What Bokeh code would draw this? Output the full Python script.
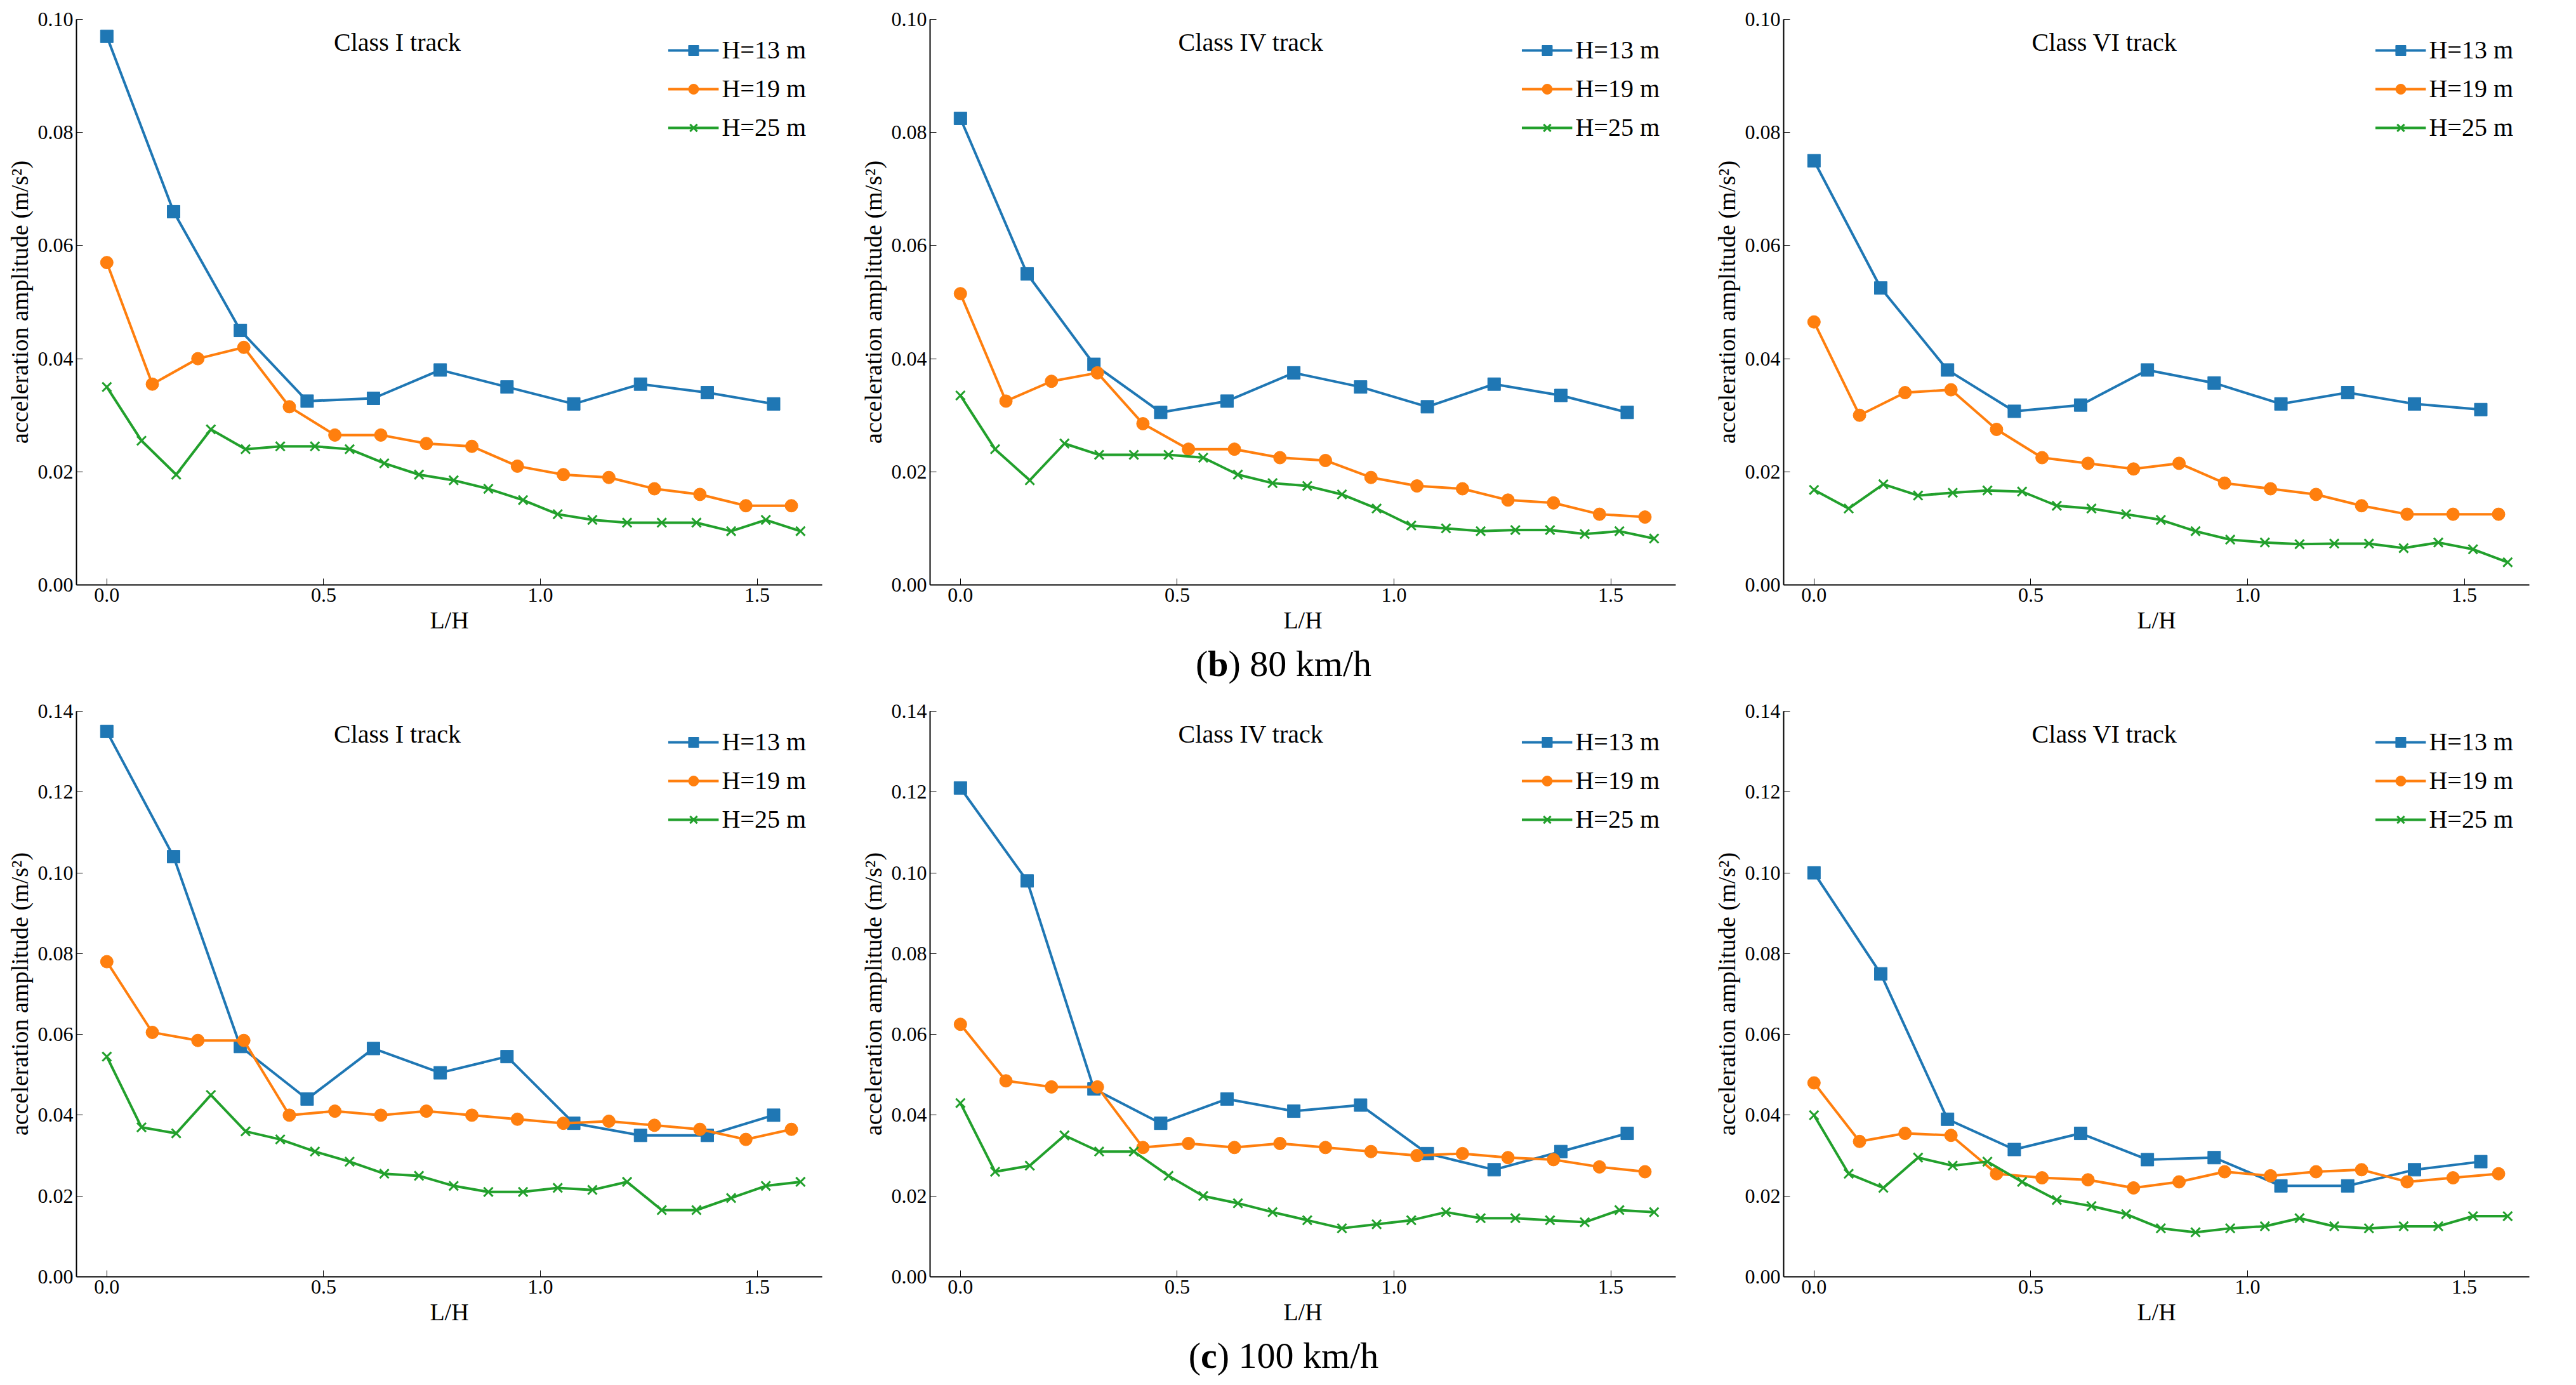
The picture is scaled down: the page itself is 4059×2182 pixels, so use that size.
from bokeh.plotting import figure
from bokeh.layouts import column, row
from bokeh.models import Div, Label, FixedTicker, NumeralTickFormatter, Legend, LegendItem
from bokeh.embed import file_html
from bokeh.resources import INLINE

x13 = [0, 0.154, 0.308, 0.462, 0.615, 0.769, 0.923, 1.077, 1.231, 1.385, 1.538]
x19 = [0, 0.105, 0.21, 0.316, 0.421, 0.526, 0.632, 0.737, 0.842, 0.947, 1.053, 1.158, 1.263, 1.368, 1.474, 1.579]
x25 = [0, 0.08, 0.16, 0.24, 0.32, 0.40, 0.48, 0.56, 0.64, 0.72, 0.80, 0.88, 0.96, 1.04, 1.12, 1.20, 1.28, 1.36, 1.44, 1.52, 1.60]

titles = ["Class I track", "Class IV track", "Class VI track"]
captions = [("(b)", " 80 km/h"), ("(c)", " 100 km/h")]

b80_h13 = [[.097,.066,.045,.0325,.033,.038,.035,.032,.0355,.034,.032],
           [.0825,.055,.039,.0305,.0325,.0375,.035,.0315,.0355,.0335,.0305],
           [.075,.0525,.038,.0307,.0318,.038,.0357,.032,.034,.032,.031]]
b80_h19 = [[.057,.0355,.040,.042,.0315,.0265,.0265,.025,.0245,.021,.0195,.019,.017,.016,.014,.014],
           [.0515,.0325,.036,.0375,.0285,.024,.024,.0225,.022,.019,.0175,.017,.015,.0145,.0125,.012],
           [.0465,.030,.034,.0345,.0275,.0225,.0215,.0205,.0215,.018,.017,.016,.014,.0125,.0125,.0125]]
b80_h25 = [[.035,.0255,.0195,.0275,.024,.0245,.0245,.024,.0215,.0195,.0185,.017,.015,.0125,.0115,.011,.011,.011,.0095,.0115,.0095],
           [.0335,.024,.0185,.025,.023,.023,.023,.0225,.0195,.018,.0175,.016,.0135,.0105,.0100,.0095,.0097,.0097,.009,.0095,.0082],
           [.0168,.0135,.0178,.0158,.0163,.0167,.0165,.014,.0135,.0125,.0115,.0095,.008,.0075,.0072,.0073,.0073,.0065,.0075,.0063,.0040]]
c100_h13 = [[.135,.104,.057,.044,.0565,.0505,.0545,.038,.035,.035,.040],
            [.121,.098,.0465,.038,.044,.041,.0425,.0305,.0265,.031,.0355],
            [.1,.075,.039,.0315,.0355,.029,.0295,.0225,.0225,.0265,.0285]]
c100_h19 = [[.078,.0605,.0585,.0585,.040,.041,.040,.041,.040,.039,.038,.0385,.0375,.0365,.034,.0365],
            [.0625,.0485,.047,.047,.032,.033,.032,.033,.032,.031,.030,.0305,.0295,.029,.0272,.026],
            [.048,.0335,.0355,.035,.0255,.0245,.024,.022,.0235,.026,.025,.026,.0265,.0235,.0245,.0255]]
c100_h25 = [[.0545,.037,.0355,.045,.036,.034,.031,.0285,.0255,.025,.0225,.021,.021,.022,.0215,.0235,.0165,.0165,.0195,.0225,.0235],
            [.043,.026,.0275,.035,.031,.031,.025,.020,.0182,.016,.014,.012,.013,.014,.016,.0145,.0145,.014,.0135,.0165,.016],
            [.040,.0255,.022,.0295,.0275,.0285,.0235,.019,.0175,.0155,.012,.011,.012,.0125,.0145,.0125,.012,.0125,.0125,.015,.015]]

C13, C19, C25 = "#1f77b4", "#ff7f0e", "#22a02c"
F = "Liberation Serif"

def panel(title, y13, y19, y25, ymax):
    p = figure(width=1345, height=1000, output_backend="svg", toolbar_location=None,
               x_range=(-0.07, 1.65), y_range=(0, ymax), min_border_left=120,
               min_border_right=50, min_border_top=30)
    p.xgrid.visible = False
    p.ygrid.visible = False
    p.outline_line_color = None
    r1 = p.line(x13, y13, color=C13, line_width=4)
    m1 = p.scatter(x13, y13, marker="square", size=20, color=C13)
    r2 = p.line(x19, y19, color=C19, line_width=4)
    m2 = p.scatter(x19, y19, marker="circle", size=20, color=C19)
    r3 = p.line(x25, y25, color=C25, line_width=4)
    m3 = p.scatter(x25, y25, marker="x", size=20, color=C25, line_width=3)
    leg = Legend(items=[LegendItem(label="H=13 m", renderers=[r1, m1]),
                        LegendItem(label="H=19 m", renderers=[r2, m2]),
                        LegendItem(label="H=25 m", renderers=[r3, m3])],
                 location="top_right", border_line_color=None, background_fill_alpha=0,
                 label_text_font=F, label_text_font_size="40px", label_text_color="black",
                 glyph_width=80, glyph_height=40, spacing=14, margin=25, padding=10)
    p.add_layout(leg)
    p.add_layout(Label(x=0.67, y=ymax * 0.985, text=title, text_align="center",
                       text_baseline="top", text_font=F, text_font_size="40px", text_color="black"))
    step = 0.02
    p.yaxis.ticker = FixedTicker(ticks=[round(i * step, 2) for i in range(int(round(ymax / step)) + 1)])
    p.yaxis.formatter = NumeralTickFormatter(format="0.00")
    p.xaxis.ticker = FixedTicker(ticks=[0, 0.5, 1.0, 1.5])
    p.xaxis.formatter = NumeralTickFormatter(format="0.0")
    for ax in (p.xaxis, p.yaxis):
        ax.major_tick_in = 10
        ax.major_tick_out = 0
        ax.minor_tick_in = 0
        ax.minor_tick_out = 0
        ax.major_label_text_font = F
        ax.major_label_text_font_size = "32px"
        ax.major_label_text_color = "black"
        ax.axis_label_text_font = F
        ax.axis_label_text_font_size = "38px"
        ax.axis_label_text_color = "black"
        ax.axis_label_text_font_style = "normal"
        ax.axis_line_width = 2
        ax.axis_line_color = "black"
        ax.major_tick_line_color = "black"
    p.xaxis.axis_label = "L/H"
    p.yaxis.axis_label = "acceleration amplitude (m/s²)"
    return p

def cap(lbl, rest):
    return Div(text=f"<div style='width:4035px;text-align:center;font-family:\"Liberation Serif\";font-size:58px;color:black;'>"
                    f"(<b>{lbl[1]}</b>){rest}</div>", width=4035, height=80)

row1 = row(*[panel(titles[i], b80_h13[i], b80_h19[i], b80_h25[i], 0.10) for i in range(3)])
row2 = row(*[panel(titles[i], c100_h13[i], c100_h19[i], c100_h25[i], 0.14) for i in range(3)])
layout = column(row1, cap(*captions[0]), row2, cap(*captions[1]))
open("out.html", "w").write(file_html(layout, INLINE))
